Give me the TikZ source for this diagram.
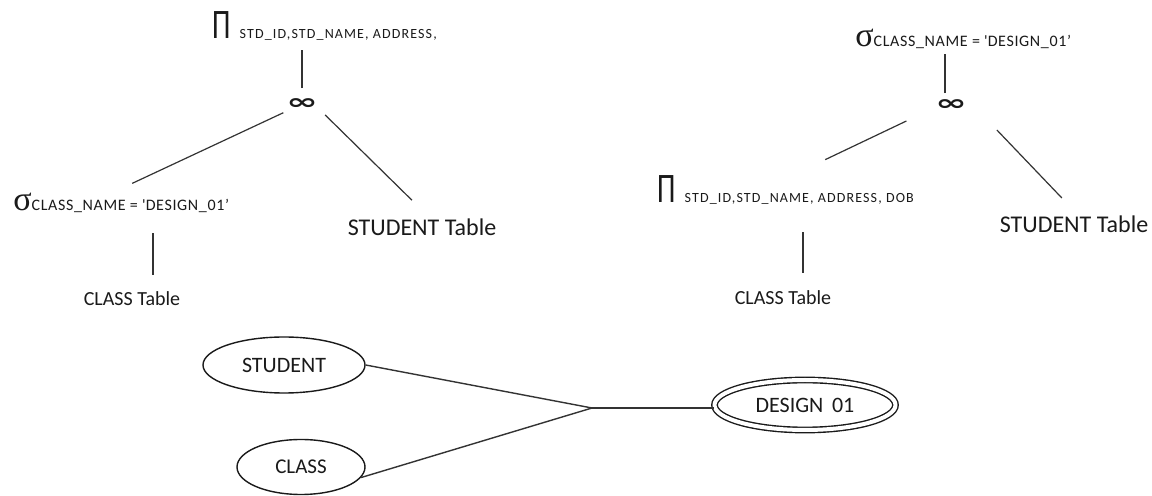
\documentclass[tikz,border=0pt]{standalone}
\usepackage{graphicx}
\usepackage{fontspec}
\setmainfont{Carlito}
\newfontfamily\greekfont{Liberation Serif}
\newfontfamily\joinfont{DejaVu Sans}
\usetikzlibrary{shapes.geometric}
\definecolor{raInk}{HTML}{1A1A1A}
\definecolor{raEdge}{HTML}{333333}
% operator glyphs and subscripts
\newcommand{\projop}{{\fontsize{21}{21}\selectfont\scalebox{0.7}[1]{Π}}}
\newcommand{\selop}{{\greekfont\fontsize{17}{17}\selectfont σ}}
\newcommand{\joinop}{{\joinfont\bfseries\fontsize{18}{18}\selectfont\scalebox{1.05}[0.6]{∞}}}
\newcommand{\projsub}[1]{{\fontsize{7}{8}\selectfont\addfontfeature{LetterSpace=8}#1}}
\newcommand{\selsub}[1]{{\fontsize{8}{9}\selectfont\addfontfeature{LetterSpace=4}#1}}
\tikzset{
  ra edge/.style={draw=raEdge, line width=0.6pt},
  ra op/.style={inner sep=0pt, anchor=base west, text=raInk},
  ra join/.style={inner sep=0pt, text=raInk},
  ra table/.style={inner sep=0pt, anchor=base, text=raInk},
  er entity/.style={ellipse, draw=raInk, line width=0.7pt, inner sep=0pt, text=raInk},
  er weak/.style={er entity, double, double distance=2pt},
}

\begin{document}
\begin{tikzpicture}[x=0.5pt, y=-0.5pt]
  \fill[white] (0,0) rectangle (1152,496);
  \useasboundingbox (0,0) rectangle (1152,496);

  % first query tree: select on CLASS, then join
  \node[ra op] (proj1) at (212,39) {\projop\hspace{4.5pt}\projsub{STD\_ID,STD\_NAME, ADDRESS,}};
  \node[ra join] (join1) at (302,104) {\joinop};
  \node[ra op] (sel1) at (13,211) {\selop\selsub{CLASS\_NAME = \textquotesingle DESIGN\_01’}};
  \node[ra table, font=\fontsize{12}{14}\selectfont] (st1) at (422,236) {STUDENT Table};
  \node[ra table, font=\fontsize{10}{12}\selectfont] (clsT1) at (132,306) {CLASS Table};

  \draw[ra edge, shorten <=5pt, shorten >=4.5pt] (join1.north) -- (join1.north |- proj1.south);
  \draw[ra edge, shorten <=10.3pt, shorten >=11.6pt] (join1.center) -- ([xshift=-5pt]sel1.north);
  \draw[ra edge, shorten <=7.8pt, shorten >=13.4pt] ([xshift=6pt]join1.center) -- ([xshift=4.5pt]st1.north);
  \draw[ra edge, shorten <=8.5pt, shorten >=9.5pt] ([xshift=10.5pt]clsT1.north) -- ([xshift=10.5pt]clsT1.north |- sel1.south);

  % second query tree: project on CLASS, join, then select
  \node[ra op] (sel2) at (855,47) {\selop\selsub{CLASS\_NAME = \textquotesingle DESIGN\_01’}};
  \node[ra join] (join2) at (951,105) {\joinop};
  \node[ra op] (proj2) at (657,203) {\projop\hspace{4.5pt}\projsub{STD\_ID,STD\_NAME, ADDRESS, DOB}};
  \node[ra table, font=\fontsize{12}{14}\selectfont] (st2) at (1074,233) {STUDENT Table};
  \node[ra table, font=\fontsize{10}{12}\selectfont] (clsT2) at (783,305) {CLASS Table};

  \draw[ra edge, shorten <=3pt, shorten >=2pt] ([xshift=-3pt]join2.north) -- ([xshift=-3pt]join2.north |- sel2.south);
  \draw[ra edge, shorten <=18.6pt, shorten >=18.6pt] ([xshift=-5.5pt]join2.center) -- ([xshift=3pt]proj2.north);
  \draw[ra edge, shorten <=17.3pt, shorten >=12.4pt] ([xshift=11pt]join2.center) -- ([xshift=2.5pt]st2.north);
  \draw[ra edge, shorten <=9pt, shorten >=13.5pt] ([xshift=10pt]clsT2.north) -- ([xshift=10pt]clsT2.north |- proj2.south);

  % ER fragment
  \node[er entity, minimum width=81pt, minimum height=28pt, font=\fontsize{11}{13}\selectfont] (student) at (284,365) {STUDENT};
  \node[er entity, minimum width=64pt, minimum height=27.5pt, font=\fontsize{10.5}{12}\selectfont] (class) at (301,467) {CLASS};
  \node[er weak, minimum width=90.5pt, minimum height=25pt, font=\fontsize{11}{13}\selectfont] (design) at (805,405) {DESIGN\ \,01};
  \coordinate (jn) at (592,408);

  \draw[ra edge, line width=0.7pt] (student.east) -- (jn);
  \draw[ra edge, line width=0.7pt] (class.-10) -- (jn);
  \draw[ra edge, line width=0.7pt] (jn) -- (jn -| design.west);
\end{tikzpicture}
\end{document}
